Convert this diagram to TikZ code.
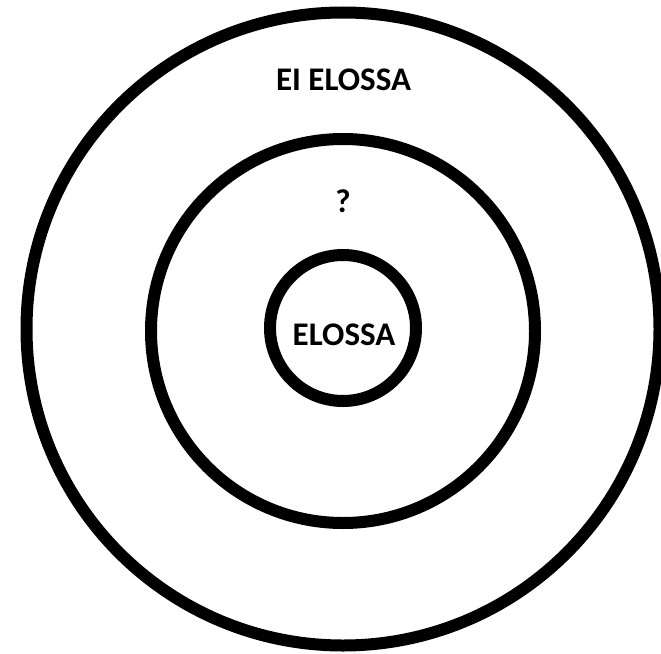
\documentclass[tikz,border=0pt]{standalone}
\usepackage{fontspec}
\setmainfont{Carlito}
\begin{document}
\begin{tikzpicture}[x=1pt,y=1pt,
  ring/.style={circle,draw=black,line width=12pt,inner sep=0pt,outer sep=0pt},
  lbl/.style={font=\fontsize{33}{36}\selectfont\bfseries,inner sep=0pt}]
\useasboundingbox (0,0) rectangle (661,-653);
\fill[white] (0,0) rectangle (661,-653);
\node[ring,minimum size=633pt] (outer) at (343,-329) {};
\node[ring,minimum size=384pt] (middle) at (343,-331) {};
\node[ring,minimum size=146pt] (inner) at (343,-328) {};
\node[lbl] (t1) at (343.5,-79.5) {EI ELOSSA};
\node[lbl] (t2) at (343,-201) {?};
\node[lbl] (t3) at (344,-334.5) {ELOSSA};
\end{tikzpicture}
\end{document}
